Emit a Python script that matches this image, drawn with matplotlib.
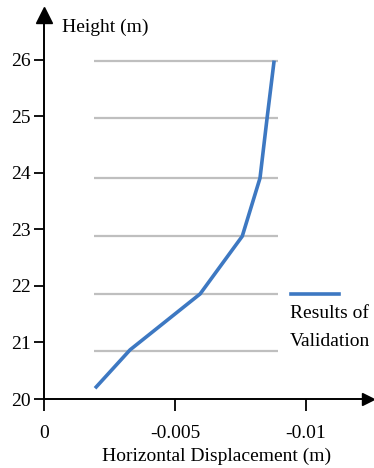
import matplotlib
matplotlib.use("Agg")
import matplotlib.pyplot as plt
from matplotlib.lines import Line2D

plt.rcParams['font.family'] = ['Liberation Serif', 'DejaVu Serif']
plt.rcParams['axes.unicode_minus'] = False

# Displacement profile along the height
displacement = [-0.00194, -0.00328, -0.00596, -0.00757, -0.00825, -0.00852, -0.00879]
height = [20.19, 20.87, 21.86, 22.88, 23.91, 24.97, 25.99]

# Storey levels (horizontal reference lines)
levels = [20.85, 21.86, 22.88, 23.91, 24.97, 25.98]
level_span = [-0.00191, -0.00894]

y_ticks = [20, 21, 22, 23, 24, 25, 26]
x_ticks = [0, -0.005, -0.01]
x_tick_labels = ['0', '-0.005', '-0.01']

W, H = 374, 468
fig = plt.figure(figsize=(W / 100, H / 100), dpi=100)

# axes box in pixels: left, right, top, bottom
left, right, top, bottom = 44.3, 368, 15, 399
ax = fig.add_axes([left / W, 1 - bottom / H, (right - left) / W, (bottom - top) / H])

ax.set_ylim(20, 26.796)
ax.set_xlim(0, -0.01238)

ax.hlines(levels, level_span[0], level_span[1], color='#bfbfbf', linewidth=1.6, zorder=1)
ax.plot(displacement, height, color='#3d78c2', linewidth=2.6, solid_capstyle='butt', zorder=2)

for side in ['top', 'right']:
    ax.spines[side].set_visible(False)
for side in ['left', 'bottom']:
    ax.spines[side].set_linewidth(1.4)
    ax.spines[side].set_color('black')

# arrow heads at the axis ends
ax.plot(0, 1, marker='^', color='black', markersize=11, transform=ax.transAxes, clip_on=False)
ax.plot(1, 0, marker='>', color='black', markersize=9, transform=ax.transAxes, clip_on=False)

ax.set_yticks(y_ticks)
ax.set_xticks(x_ticks)
ax.set_xticklabels(x_tick_labels)
ax.tick_params(axis='y', direction='out', length=7, width=1.3, pad=3, labelsize=14)
ax.tick_params(axis='x', direction='out', length=8.5, width=1.3, pad=10, labelsize=14)

fig.text(62 / W, 1 - 27 / H, 'Height (m)', fontsize=14, ha='left', va='center')
fig.text(217 / W, 1 - 456 / H, 'Horizontal Displacement (m)', fontsize=14, ha='center', va='center')

# legend
fig.add_artist(Line2D([291 / W, 339 / W], [1 - 294 / H, 1 - 294 / H],
                      color='#3d78c2', linewidth=2.6, transform=fig.transFigure))
fig.text(290 / W, 1 - 313 / H, 'Results of', fontsize=14, ha='left', va='center')
fig.text(290 / W, 1 - 341 / H, 'Validation', fontsize=14, ha='left', va='center')

fig.savefig('out.png', dpi=100)
